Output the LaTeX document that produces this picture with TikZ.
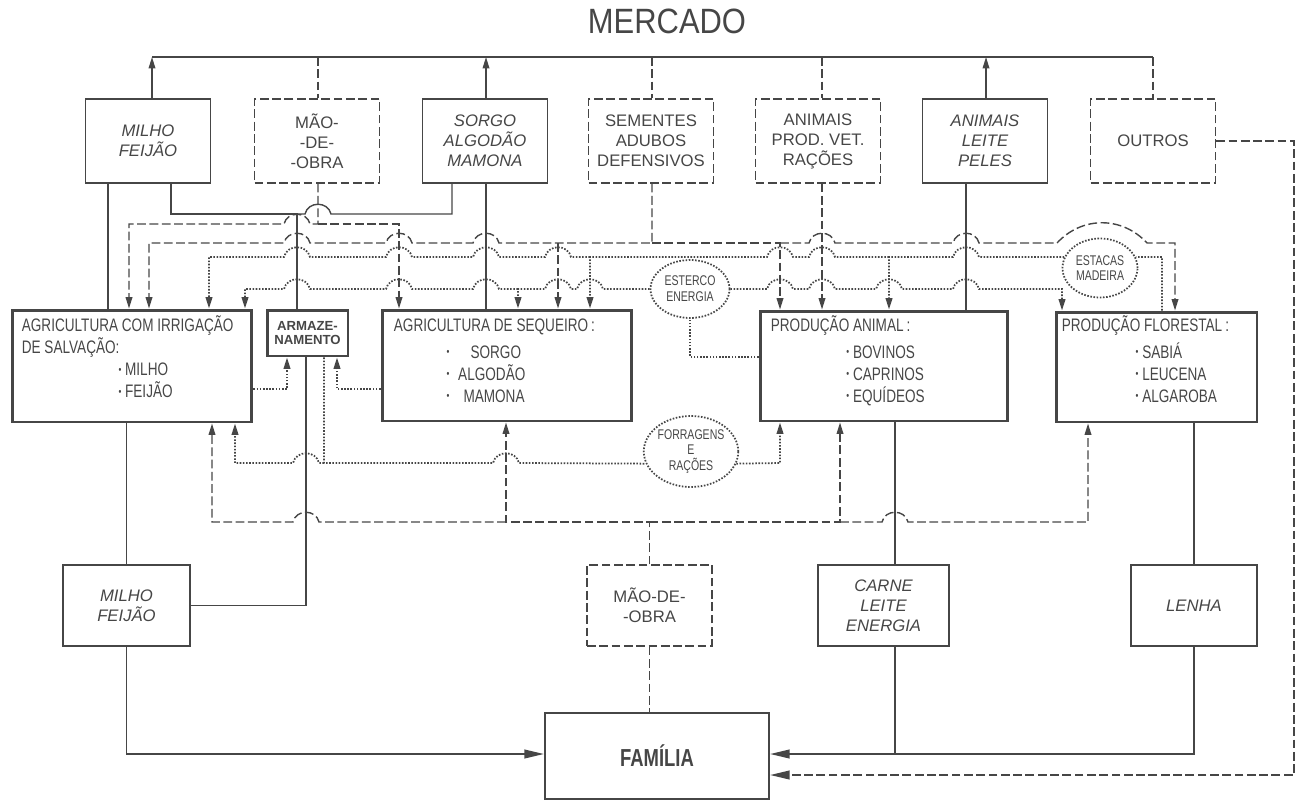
\documentclass[tikz,border=0pt]{standalone}
\usepackage{graphicx}
\usepackage{fontspec}
\setmainfont{Liberation Sans}
\newfontfamily\lettering[FakeStretch=0.75]{Liberation Sans}
\newfontfamily\titlefont[FakeStretch=0.88]{Liberation Sans}
\usetikzlibrary{arrows.meta, shapes.geometric}
\definecolor{ink}{RGB}{70,70,70}
\newcommand\bul{\raisebox{0.28ex}{\scalebox{0.6}{•}}}
% pulos (cruzamento de linhas)
\newcommand\hopr[2]{-- ({#1-13},#2) .. controls ({#1-10},{#2-13}) and ({#1+10},{#2-13}) .. ({#1+13},#2)}
\newcommand\hopl[2]{-- ({#1+13},#2) .. controls ({#1+10},{#2-13}) and ({#1-10},{#2-13}) .. ({#1-13},#2)}
\tikzset{%
	flowline/.style = { draw=ink, line width=0.8pt },
	flowdash/.style = { draw=ink, line width=0.8pt, dash pattern=on 5pt off 2pt },
	flowdot/.style = { draw=ink, line width=1pt, dash pattern=on 0.9pt off 0.9pt },
	arr/.style = { -{Triangle[length=6.5pt,width=3.8pt]} },
	bigarr/.style = { -{Triangle[length=11pt,width=5pt]} },
	prodbox/.style = { draw=ink, line width=0.8pt, minimum width=2.5cm, minimum height=1.68cm, align=center, inner sep=0pt, font={\fontsize{9.5}{11.4}\selectfont\itshape} },
	insumobox/.style = { prodbox, dash pattern=on 5pt off 2pt, font={\fontsize{9.5}{11.4}\selectfont} },
	sysbox/.style = { draw=ink, line width=1.7pt, inner sep=0pt },
	systext/.style = { anchor=north west, inner sep=0pt, align=left, font={\lettering\fontsize{10.3}{12.5}\selectfont} },
	flowell/.style = { ellipse, draw=ink, line width=1pt, dash pattern=on 0.9pt off 0.9pt, inner sep=0pt, align=center, font={\lettering\fontsize{8}{9}\selectfont} }
}

\begin{document}
\begin{tikzpicture}[x=0.02cm, y=-0.02cm, every node/.style={text=ink}]
	\useasboundingbox (0,0) rectangle (1297,801);

	% 1. Mercado
	\node[font=\titlefont\fontsize{20}{24}\selectfont] (mercado) at (667,21) {MERCADO};

	% 2. Caixas de cima
	\node[prodbox] (tmilho) at (148,141) {MILHO\\FEIJÃO};
	\node[insumobox] (tmao) at (317,141) {MÃO-\\-DE-\\-OBRA};
	\node[prodbox] (tsorgo) at (485,141) {SORGO\\ALGODÃO\\MAMONA};
	\node[insumobox] (tsem) at (651,141) {SEMENTES\\ADUBOS\\DEFENSIVOS};
	\node[insumobox] (tanim) at (818,141) {ANIMAIS\\PROD. VET.\\RAÇÕES};
	\node[prodbox] (tleite) at (985,141) {ANIMAIS\\LEITE\\PELES};
	\node[insumobox] (toutros) at (1153,141) {OUTROS};

	\draw[flowline] (152,57) -- (1153,57);
	\draw[flowline, arr] (152,0 |- tmilho.north) -- (152,57);
	\draw[flowline, arr] (486,0 |- tsorgo.north) -- (486,57);
	\draw[flowline, arr] (986,0 |- tleite.north) -- (986,57);
	\draw[flowdash] (318,57) -- (318,0 |- tmao.north);
	\draw[flowdash] (652,57) -- (652,0 |- tsem.north);
	\draw[flowdash] (822,57) -- (822,0 |- tanim.north);
	\draw[flowdash] (1153,57) -- (toutros.north);

	% 3. Subsistemas
	\node[sysbox, minimum width=4.8cm, minimum height=2.24cm] (irrig) at (132,366) {};
	\node[systext] (irrigtxt) at ([shift={(11,5.5)}]irrig.north west) {\rule{0pt}{10pt}AGRICULTURA COM IRRIGAÇÃO\\DE SALVAÇÃO:\\\hspace*{55pt}\bul\ MILHO\\\hspace*{55pt}\bul\ FEIJÃO};
	\node[sysbox, minimum width=1.62cm, minimum height=0.92cm, align=center, font=\bfseries\fontsize{7.5}{8.2}\selectfont] (armaz) at (307.5,333) {ARMAZE-\\NAMENTO};
	\node[sysbox, minimum width=5cm, minimum height=2.22cm] (seq) at (507,365.5) {};
	\node[systext] (seqtxt) at ([shift={(13,5.5)}]seq.north west) {\rule{0pt}{10pt}AGRICULTURA DE SEQUEIRO\,:\\[2.5pt]\hspace*{30pt}\bul\hspace{12pt}SORGO\\\hspace*{30pt}\bul\hspace{5pt}ALGODÃO\\\hspace*{30pt}\bul\hspace{8pt}MAMONA};
	\node[sysbox, minimum width=4.96cm, minimum height=2.2cm] (anim) at (884,366) {};
	\node[systext] (animtxt) at ([shift={(12,4.5)}]anim.north west) {\rule{0pt}{10pt}PRODUÇÃO ANIMAL\,:\\[2.5pt]\hspace*{43pt}\bul\ BOVINOS\\\hspace*{43pt}\bul\ CAPRINOS\\\hspace*{43pt}\bul\ EQUÍDEOS};
	\node[sysbox, minimum width=4.02cm, minimum height=2.2cm] (flor) at (1156.5,367) {};
	\node[systext] (flortxt) at ([shift={(7,3.5)}]flor.north west) {\rule{0pt}{10pt}PRODUÇÃO FLORESTAL\,:\\[2.5pt]\hspace*{42pt}\bul\ SABIÁ\\\hspace*{42pt}\bul\ LEUCENA\\\hspace*{42pt}\bul\ ALGAROBA};

	% 4. Fluxos internos
	\node[flowell, minimum width=1.58cm, minimum height=1.16cm] (ester) at (690,289) {ESTERCO\\ENERGIA};
	\node[flowell, minimum width=1.84cm, minimum height=1.42cm] (forr) at (691,451.5) {FORRAGENS\\E\\RAÇÕES};
	\node[flowell, minimum width=1.5cm, minimum height=1.18cm] (estac) at (1100,268) {ESTACAS\\MADEIRA};

	% produtos para o armazenamento
	\draw[flowline] (171,0 |- tmilho.south) -- (171,214) -- (297,214) -- (297,0 |- armaz.north);
	\draw[flowline] (297,214) \hopr{318}{214} -- (452,214) -- (452,0 |- tsorgo.south);
	\draw[flowline] (108,0 |- tmilho.south) -- (108,0 |- irrig.north);
	\draw[flowline] (486,0 |- tsorgo.south) -- (486,0 |- seq.north);
	\draw[flowdash, arr] (822,0 |- tanim.south) -- (822,0 |- anim.north);
	\draw[flowline] (966,0 |- tleite.south) -- (966,0 |- anim.north);

	% mão-de-obra contratada
	\draw[flowdash, arr] (318,0 |- tmao.south) -- (318,224) \hopl{297}{224} -- (129,224) -- (129,0 |- irrig.north);
	\draw[flowdash, arr] (318,224) -- (399,224) -- (399,0 |- seq.north);

	% sementes, adubos, defensivos
	\draw[flowdash, arr] (652,0 |- tsem.south) -- (652,243) \hopl{486}{243} \hopl{399}{243} \hopl{297}{243} -- (149,243) -- (149,0 |- irrig.north);
	\draw[flowdash, arr] (558,243) -- (558,0 |- seq.north);
	\draw[flowdash, arr] (652,243) -- (780,243) -- (780,0 |- anim.north);
	\draw[flowdash, arr] (780,243) \hopr{822}{243} \hopr{966}{243} -- (1057,243) .. controls (1082,216) and (1122,216) .. (1147,243) -- (1175,243) -- (1175,0 |- flor.north);

	% estacas, madeira
	\draw[flowdot] (1162,0 |- flor.north) -- (1162,257) -- (estac.17);
	\draw[flowdot, arr] (estac.163) \hopl{966}{257} -- (889,257) -- (889,0 |- anim.north);
	\draw[flowdot, arr] (889,257) \hopl{822}{257} \hopl{780}{257} -- (590,257) -- (590,0 |- seq.north);
	\draw[flowdot, arr] (590,257) \hopl{558}{257} \hopl{486}{257} \hopl{399}{257} \hopl{297}{257} -- (209,257) -- (209,0 |- irrig.north);

	% esterco, energia
	\draw[flowdot] (anim.west |- 0,357) -- (ester.south |- 0,357) -- (ester.south);
	\draw[flowdot, arr] (ester.west) \hopl{590}{289} \hopl{558}{289} -- (518,289) -- (518,0 |- seq.north);
	\draw[flowdot, arr] (518,289) \hopl{486}{289} \hopl{399}{289} \hopl{297}{289} -- (245,289) -- (245,0 |- irrig.north);
	\draw[flowdot, arr] (ester.east) \hopr{780}{289} \hopr{822}{289} \hopr{889}{289} \hopr{966}{289} -- (1062,289) -- (1062,0 |- flor.north);

	% armazenamento
	\draw[flowdot, arr] (irrig.east |- 0,389) -- (287,389) -- (287,0 |- armaz.south);
	\draw[flowdot, arr] (seq.west |- 0,389) -- (337,389) -- (337,0 |- armaz.south);

	% forragens e rações
	\draw[flowdot] (324,0 |- armaz.south) -- (324,463) \hopr{506}{463} -- (forr.195);
	\draw[flowdot, arr] (324,463) \hopl{306}{463} -- (235,463) -- (235,0 |- irrig.south);
	\draw[flowdot, arr] (forr.345) -- (780,463) -- (780,0 |- anim.south);

	% 5. Caixas de baixo
	\node[prodbox, minimum width=2.54cm, minimum height=1.62cm] (bmilho) at (126.5,605.5) {MILHO\\FEIJÃO};
	\node[insumobox, minimum height=1.62cm] (bmao) at (649.5,605.5) {MÃO-DE-\\-OBRA};
	\node[prodbox, minimum width=2.62cm, minimum height=1.62cm] (bcarne) at (883.5,605.5) {CARNE\\LEITE\\ENERGIA};
	\node[prodbox, minimum width=2.52cm, minimum height=1.62cm] (blenha) at (1194,605.5) {LENHA};
	\node[sysbox, line width=1.4pt, minimum width=4.48cm, minimum height=1.72cm, font=\lettering\bfseries\fontsize{14}{16}\selectfont] (familia) at (657,756) {FAMÍLIA};

	\draw[flowline] (306,0 |- armaz.south) -- (306,0 |- bmilho.east) -- (bmilho.east);
	\draw[flowline] (irrig.south -| bmilho.north) -- (bmilho.north);
	\draw[flowline] (895,0 |- anim.south) -- (895,0 |- bcarne.north);
	\draw[flowline] (flor.south -| blenha.north) -- (blenha.north);

	% mão-de-obra familiar
	\draw[flowdash, arr] (bmao.north) -- (bmao.north |- 0,522) -- (506,522) -- (506,0 |- seq.south);
	\draw[flowdash, arr] (506,522) \hopl{306}{522} -- (212,522) -- (212,0 |- irrig.south);
	\draw[flowdash, arr] (bmao.north |- 0,522) -- (840,522) -- (840,0 |- anim.south);
	\draw[flowdash, arr] (840,522) \hopr{895}{522} -- (1088,522) -- (1088,0 |- flor.south);

	% 6. Para a família
	\draw[flowline, bigarr] (bmilho.south) -- (bmilho.south |- 0,754) -- (familia.west |- 0,754);
	\draw[flowdash] (bmao.south) -- (bmao.south |- familia.north);
	\draw[flowline, bigarr] (blenha.south) -- (blenha.south |- 0,754) -- (familia.east |- 0,754);
	\draw[flowline] (895,0 |- bcarne.south) -- (895,754);
	\draw[flowdash, bigarr] (toutros.east) -- (1294,0 |- toutros.east) -- (1294,775) -- (familia.east |- 0,775);
\end{tikzpicture}
\end{document}
